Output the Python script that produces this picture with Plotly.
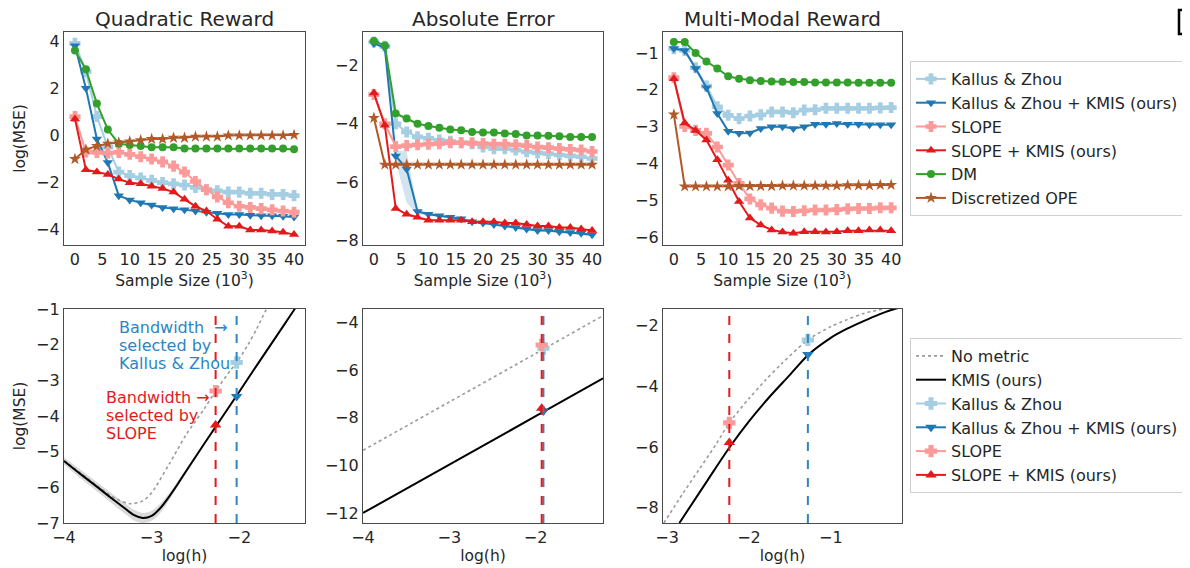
import plotly.graph_objects as go

# page body has an 8px margin: the figure is drawn 8px right/down of the window origin
OFF = 8
W, H = 1190 - OFF, 568 - OFF
FONT = "DejaVu Sans"
TXT = "#262626"

# ---------------- data ----------------
sample_size = list(range(0, 41, 2))
series_names = ["Kallus & Zhou", "Kallus & Zhou + KMIS (ours)", "SLOPE",
                "SLOPE + KMIS (ours)", "DM", "Discretized OPE"]

quad_kz = [3.9, 2.7, 0.8, -0.5, -1.55, -1.7, -1.8, -1.9, -2.0, -2.05, -2.1,
           -2.2, -2.3, -2.35, -2.4, -2.4, -2.45, -2.45, -2.5, -2.5, -2.55]
quad_kz_kmis = [3.8, 2.0, -0.15, -1.15, -2.55, -2.73, -2.85, -2.95, -3.05, -3.1, -3.15,
                -3.2, -3.25, -3.3, -3.35, -3.35, -3.38, -3.4, -3.4, -3.42, -3.45]
quad_slope = [0.8, -0.7, -0.72, -0.75, -0.72, -0.8, -0.9, -1.0, -1.12, -1.3, -1.55,
              -1.95, -2.3, -2.6, -2.85, -3.0, -3.05, -3.1, -3.15, -3.2, -3.25]
quad_slope_kmis = [0.7, -1.45, -1.55, -1.65, -1.85, -2.0, -2.05, -2.15, -2.25, -2.4, -2.7,
                   -3.0, -3.2, -3.55, -3.85, -3.85, -4.0, -4.0, -4.05, -4.1, -4.2]
quad_dm = [3.6, 2.8, 1.35, 0.25, -0.35, -0.4, -0.45, -0.5, -0.5, -0.5, -0.55,
           -0.55, -0.55, -0.55, -0.55, -0.55, -0.55, -0.55, -0.55, -0.55, -0.58]
quad_disc = [-1.0, -0.6, -0.45, -0.35, -0.3, -0.25, -0.2, -0.15, -0.15, -0.1, -0.1,
             -0.05, -0.05, -0.05, 0.0, 0.0, 0.0, 0.0, 0.0, 0.0, 0.02]

ae_kz = [-1.2, -1.35, -4.0, -4.28, -4.45, -4.5, -4.56, -4.6, -4.65, -4.68, -4.79,
         -4.85, -4.85, -4.9, -4.96, -5.0, -5.02, -5.07, -5.1, -5.13, -5.19]
ae_kz_kmis = [-1.25, -1.4, -5.1, -5.55, -7.0, -7.1, -7.15, -7.2, -7.25, -7.35, -7.4,
              -7.45, -7.5, -7.55, -7.6, -7.65, -7.65, -7.7, -7.72, -7.75, -7.8]
ae_kz_kmis_lo = [-1.3, -1.45, -5.3, -6.7, -7.1, -7.15, -7.2, -7.25, -7.3, -7.4, -7.45,
                 -7.5, -7.55, -7.6, -7.65, -7.7, -7.7, -7.75, -7.77, -7.8, -7.85]
ae_kz_kmis_hi = [-1.2, -1.35, -4.9, -4.95, -6.9, -7.05, -7.1, -7.15, -7.2, -7.3, -7.35,
                 -7.4, -7.45, -7.5, -7.55, -7.6, -7.6, -7.65, -7.67, -7.7, -7.75]
ae_slope = [-3.0, -4.0, -4.78, -4.75, -4.72, -4.7, -4.68, -4.65, -4.65, -4.65, -4.68,
            -4.7, -4.7, -4.72, -4.75, -4.8, -4.82, -4.85, -4.88, -4.9, -4.95]
ae_slope_kmis = [-2.95, -4.05, -6.9, -7.1, -7.2, -7.3, -7.3, -7.3, -7.3, -7.35, -7.35,
                 -7.35, -7.4, -7.4, -7.45, -7.5, -7.5, -7.55, -7.55, -7.6, -7.65]
ae_dm = [-1.17, -1.32, -3.65, -3.82, -4.0, -4.08, -4.14, -4.2, -4.22, -4.28, -4.3,
         -4.3, -4.33, -4.35, -4.4, -4.4, -4.41, -4.43, -4.45, -4.45, -4.45]
ae_disc = [-3.8, -5.4, -5.4, -5.4, -5.4, -5.4, -5.4, -5.4, -5.4, -5.4, -5.4,
           -5.4, -5.4, -5.4, -5.4, -5.4, -5.4, -5.4, -5.4, -5.4, -5.4]

mm_kz = [-0.88, -0.93, -1.4, -1.9, -2.46, -2.69, -2.78, -2.71, -2.68, -2.6, -2.6,
         -2.62, -2.55, -2.54, -2.5, -2.5, -2.5, -2.5, -2.5, -2.49, -2.48]
mm_kz_kmis = [-0.88, -0.93, -1.42, -1.94, -2.64, -3.12, -3.18, -3.17, -3.05, -3.0, -3.0,
              -3.05, -3.0, -2.93, -2.93, -2.91, -2.93, -2.93, -2.95, -2.95, -2.95]
mm_slope = [-1.67, -2.99, -3.1, -3.18, -3.55, -4.04, -4.54, -4.96, -5.12, -5.21, -5.29,
            -5.3, -5.28, -5.26, -5.26, -5.25, -5.23, -5.22, -5.22, -5.2, -5.2]
mm_slope_kmis = [-1.7, -2.9, -3.1, -3.36, -3.9, -4.45, -5.03, -5.48, -5.67, -5.8, -5.86,
                 -5.89, -5.85, -5.85, -5.86, -5.85, -5.82, -5.82, -5.8, -5.8, -5.82]
mm_dm = [-0.7, -0.7, -1.0, -1.23, -1.42, -1.63, -1.7, -1.74, -1.76, -1.77, -1.78,
         -1.79, -1.79, -1.8, -1.8, -1.8, -1.8, -1.81, -1.81, -1.81, -1.81]
mm_disc = [-2.67, -4.62, -4.62, -4.62, -4.62, -4.62, -4.61, -4.61, -4.61, -4.61, -4.6,
           -4.6, -4.6, -4.6, -4.6, -4.6, -4.59, -4.59, -4.59, -4.58, -4.58]

# bottom row: log(MSE) vs log(h)
bl_h_kmis = [-4.0, -3.8, -3.6, -3.45, -3.3, -3.2, -3.1, -3.0, -2.9, -2.8, -2.7, -2.6,
             -2.4, -2.2, -2.0, -1.8, -1.6, -1.4, -1.3]
bl_kmis = [-5.26, -5.65, -6.03, -6.32, -6.6, -6.78, -6.86, -6.8, -6.58, -6.26, -5.9, -5.52,
           -4.78, -4.05, -3.32, -2.58, -1.85, -1.12, -0.75]
bl_kmis_lo = [-5.36, -5.77, -6.16, -6.46, -6.75, -6.93, -7.0, -6.94, -6.71, -6.36, -5.98, -5.58,
              -4.82, -4.08, -3.35, -2.6, -1.87, -1.14, -0.77]
bl_kmis_hi = [-5.16, -5.53, -5.9, -6.18, -6.45, -6.63, -6.72, -6.66, -6.45, -6.16, -5.82, -5.46,
              -4.74, -4.02, -3.29, -2.56, -1.83, -1.1, -0.73]
bl_h_nometric = [-4.0, -3.8, -3.6, -3.4, -3.25, -3.1, -3.0, -2.8, -2.6, -2.4, -2.27, -2.1,
                 -2.03, -1.9, -1.8, -1.69, -1.6]
bl_nometric = [-5.25, -5.62, -6.0, -6.33, -6.46, -6.38, -6.15, -5.35, -4.5, -3.8, -3.3, -2.72,
               -2.5, -2.0, -1.55, -1.0, -0.6]

bm_h = [-4.0, -3.0, -2.0, -1.22]
bm_kmis = [-12.0, -9.97, -7.94, -6.35]
bm_nometric = [-9.37, -7.34, -5.31, -3.72]

br_h_kmis = [-2.85, -2.5, -2.23, -2.0, -1.75, -1.5, -1.28, -1.0, -0.8, -0.6, -0.4, -0.28, -0.13]
br_kmis = [-8.5, -7.07, -5.98, -5.15, -4.35, -3.62, -2.97, -2.4, -2.1, -1.85, -1.62, -1.5, -1.38]
br_h_nometric = [-3.04, -2.8, -2.6, -2.4, -2.24, -2.0, -1.8, -1.6, -1.28, -1.0, -0.8, -0.6, -0.36]
br_nometric = [-8.5, -7.5, -6.7, -5.9, -5.2, -4.4, -3.8, -3.25, -2.47, -2.03, -1.8, -1.6, -1.45]

# selected bandwidths and their MSEs: [quadratic, absolute, multimodal]
h_slope = [-2.27, -1.93, -2.24]
h_kz = [-2.03, -1.91, -1.28]
mse_kz = [-2.5, -5.09, -2.47]
mse_kz_kmis = [-3.45, -7.72, -2.95]
mse_slope = [-3.3, -4.95, -5.2]
mse_slope_kmis = [-4.25, -7.6, -5.85]

panel_titles = ["Quadratic Reward", "Absolute Error", "Multi-Modal Reward"]
kz_note_lines = ["Bandwidth  →", "selected by", "Kallus &amp; Zhou"]
slope_note_lines = ["Bandwidth →", "selected by", "SLOPE"]

# ---------------- style ----------------
C_KZ, C_KZK, C_SL, C_SLK, C_DM, C_DISC = ("#a6cee3", "#1f78b4", "#fb9a99",
                                          "#e31a1c", "#33a02c", "#b15928")
colors = [C_KZ, C_KZK, C_SL, C_SLK, C_DM, C_DISC]
symbols = ["cross", "triangle-down", "cross", "triangle-up", "circle", "star"]
msizes = [8, 9, 8, 9, 8, 9]
mlines = [1.5, 0, 1.5, 0, 0, 0]


def px_x(p):
    return (p - OFF) / W


def px_y(p):
    return 1 - (p - OFF) / H


fig = go.Figure()

top_data = [
    [quad_kz, quad_kz_kmis, quad_slope, quad_slope_kmis, quad_dm, quad_disc],
    [ae_kz, ae_kz_kmis, ae_slope, ae_slope_kmis, ae_dm, ae_disc],
    [mm_kz, mm_kz_kmis, mm_slope, mm_slope_kmis, mm_dm, mm_disc],
]

# band in absolute error panel
fig.add_trace(go.Scatter(x=sample_size + sample_size[::-1],
                         y=ae_kz_kmis_hi + ae_kz_kmis_lo[::-1],
                         fill="toself", fillcolor="rgba(31,120,180,0.2)",
                         line=dict(width=0), hoverinfo="skip", showlegend=False,
                         xaxis="x2", yaxis="y2"))

for p in range(3):
    ax = "" if p == 0 else str(p + 1)
    for i in range(6):
        fig.add_trace(go.Scatter(
            x=sample_size, y=top_data[p][i], mode="lines+markers",
            name=series_names[i], legend="legend",
            line=dict(color=colors[i], width=2),
            marker=dict(symbol=symbols[i], size=msizes[i], color=colors[i],
                        line=dict(color=colors[i], width=mlines[i])),
            showlegend=(p == 0), xaxis="x" + ax, yaxis="y" + ax))

# bottom-left band
fig.add_trace(go.Scatter(x=bl_h_kmis + bl_h_kmis[::-1], y=bl_kmis_hi + bl_kmis_lo[::-1],
                         fill="toself", fillcolor="rgba(150,150,150,0.35)",
                         line=dict(width=0, shape="spline"), hoverinfo="skip",
                         showlegend=False, xaxis="x4", yaxis="y4"))

bottom_curves = [
    (bl_h_nometric, bl_nometric, bl_h_kmis, bl_kmis),
    (bm_h, bm_nometric, bm_h, bm_kmis),
    (br_h_nometric, br_nometric, br_h_kmis, br_kmis),
]

for p in range(3):
    ax = str(p + 4)
    hn, yn, hk, yk = bottom_curves[p]
    fig.add_trace(go.Scatter(x=hn, y=yn, mode="lines", name="No metric",
                             line=dict(color="#9a9a9a", width=1.6, dash="dot",
                                       shape="spline", smoothing=0.8),
                             legend="legend2", showlegend=(p == 0),
                             xaxis="x" + ax, yaxis="y" + ax))
    fig.add_trace(go.Scatter(x=hk, y=yk, mode="lines", name="KMIS (ours)",
                             line=dict(color="black", width=2, shape="spline",
                                       smoothing=0.8),
                             legend="legend2", showlegend=(p == 0),
                             xaxis="x" + ax, yaxis="y" + ax))
    pts = [(h_kz[p], mse_kz[p], 0), (h_kz[p], mse_kz_kmis[p], 1),
           (h_slope[p], mse_slope[p], 2), (h_slope[p], mse_slope_kmis[p], 3)]
    for hx, my, i in pts:
        fig.add_trace(go.Scatter(x=[hx], y=[my], mode="lines+markers",
                                 name=series_names[i],
                                 line=dict(color=colors[i], width=2),
                                 marker=dict(symbol=symbols[i], size=msizes[i] + 1,
                                             color=colors[i],
                                             line=dict(color=colors[i], width=mlines[i])),
                                 legend="legend2", showlegend=(p == 0),
                                 xaxis="x" + ax, yaxis="y" + ax))
    fig.add_shape(type="line", xref="x" + ax, yref="y" + ax + " domain",
                  x0=h_kz[p], x1=h_kz[p], y0=0, y1=1,
                  line=dict(color="#2c85c4", width=2, dash="dash"))
    fig.add_shape(type="line", xref="x" + ax, yref="y" + ax + " domain",
                  x0=h_slope[p], x1=h_slope[p], y0=0, y1=1,
                  line=dict(color=C_SLK, width=2, dash="dash"))

# ---------------- axes ----------------
xdom = [(64, 305), (363, 603), (663, 902)]
ydom_top = (32, 245)
ydom_bot = (309, 523)

top_yr = [[-4.64, 4.38], [-8.15, -0.86], [-6.21, -0.43]]
top_yt = [[4, 2, 0, -2, -4], [-2, -4, -6, -8], [-1, -2, -3, -4, -5, -6]]
bot_xr = [[-4, -1.25], [-4, -1.22], [-3.05, -0.13]]
bot_yr = [[-7, -1], [-12.42, -3.44], [-8.5, -1.45]]
bot_xt = [[-4, -3, -2], [-4, -3, -2], [-3, -2, -1]]
bot_yt = [[-7, -6, -5, -4, -3, -2, -1], [-12, -10, -8, -6, -4], [-8, -6, -4, -2]]

common = dict(showline=True, mirror=True, linecolor="#4a4a4a", linewidth=1.3,
              showgrid=False, zeroline=False, ticks="", automargin=False,
              tickfont=dict(family=FONT, size=16, color=TXT))

layout = {}
for k in range(6):
    row, col = divmod(k, 3)
    sfx = "" if k == 0 else str(k + 1)
    xd = (px_x(xdom[col][0]), px_x(xdom[col][1]))
    yd = ydom_top if row == 0 else ydom_bot
    yd = (px_y(yd[1]), px_y(yd[0]))
    if row == 0:
        xa = dict(common, domain=xd, range=[-2, 42], tickvals=list(range(0, 41, 5)),
                  anchor="y" + sfx,
                  title=dict(text="Sample Size (10<sup>3</sup>)", standoff=3,
                             font=dict(family=FONT, size=15.5, color=TXT)))
        ya = dict(common, domain=yd, range=top_yr[col], tickvals=top_yt[col],
                  anchor="x" + sfx)
    else:
        xa = dict(common, domain=xd, range=bot_xr[col], tickvals=bot_xt[col],
                  anchor="y" + sfx,
                  title=dict(text="log(h)", standoff=1,
                             font=dict(family=FONT, size=15.5, color=TXT)))
        ya = dict(common, domain=yd, range=bot_yr[col], tickvals=bot_yt[col],
                  anchor="x" + sfx)
    if col == 0:
        ya["title"] = dict(text="log(MSE)", standoff=6,
                           font=dict(family=FONT, size=15.5, color=TXT))
    layout["xaxis" + sfx] = xa
    layout["yaxis" + sfx] = ya

fig.update_layout(**layout)

annotations = []
for col in range(3):
    cx = (xdom[col][0] + xdom[col][1]) / 2
    annotations.append(dict(text=panel_titles[col], x=px_x(cx), y=px_y(19),
                            xref="paper", yref="paper", showarrow=False,
                            xanchor="center", yanchor="middle",
                            font=dict(family=FONT, size=20, color=TXT)))

kz_line_y = [327, 345, 363]
slope_line_y = [397, 415, 433]
for txt, yy in zip(kz_note_lines, kz_line_y):
    annotations.append(dict(text=txt, x=px_x(117), y=px_y(yy), xref="paper", yref="paper",
                            showarrow=False, xanchor="left", yanchor="middle",
                            font=dict(family=FONT, size=16, color="#2c85c4")))
for txt, yy in zip(slope_note_lines, slope_line_y):
    annotations.append(dict(text=txt, x=px_x(104), y=px_y(yy), xref="paper", yref="paper",
                            showarrow=False, xanchor="left", yanchor="middle",
                            font=dict(family=FONT, size=16, color=C_SLK)))

fig.add_shape(type="path", xref="paper", yref="paper",
              path=f"M {px_x(1192)} {px_y(10)} L {px_x(1179)} {px_y(10)} "
                   f"L {px_x(1179)} {px_y(34)} L {px_x(1192)} {px_y(34)}",
              line=dict(color="black", width=2.5))

legend_style = dict(font=dict(family=FONT, size=16, color=TXT), bgcolor="white",
                    bordercolor="#d0d0d0", borderwidth=1, xanchor="left",
                    yanchor="top", itemwidth=30, tracegroupgap=0)

fig.update_layout(
    width=W, height=H,
    margin=dict(l=0, r=0, t=0, b=0),
    paper_bgcolor="white", plot_bgcolor="white",
    font=dict(family=FONT, color=TXT),
    annotations=annotations,
    legend=dict(legend_style, x=px_x(910), y=px_y(61)),
    legend2=dict(legend_style, x=px_x(910), y=px_y(338)),
)

fig.write_html("out.html")
